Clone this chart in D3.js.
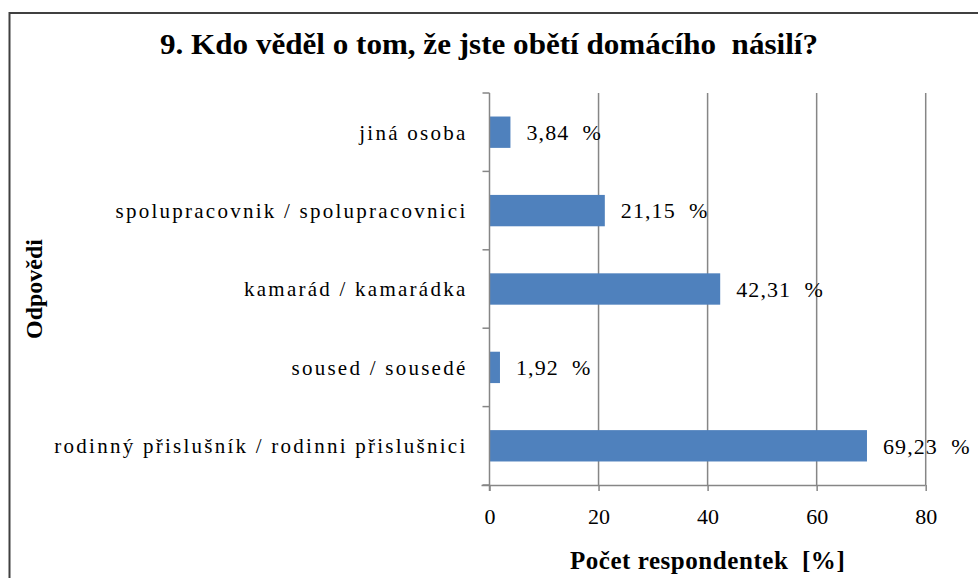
<!DOCTYPE html>
<html><head><meta charset="utf-8">
<script src="https://cdn.jsdelivr.net/npm/d3@7"></script>
<style>body{margin:0;background:#fff}svg{display:block}text{font-family:"Liberation Serif","Times New Roman","DejaVu Serif",serif}</style>
</head><body><svg id="c" width="978" height="578"></svg>
<script>
const categories = ["jiná osoba","spolupracovník / spolupracovníci","kamarád / kamarádka","soused / sousedé","rodinný příslušník / rodinní příslušníci"];
const labelsShown = ["jiná osoba","spolupracovnik / spolupracovnici","kamarád / kamarádka","soused / sousedé","rodinný přislušník / rodinni přislušnici"];
const values = [3.84, 21.15, 42.31, 1.92, 69.23];
const valueLabels = ["3,84  %","21,15  %","42,31  %","1,92  %","69,23  %"];
const xTicks = [0,20,40,60,80];
const title = "9. Kdo věděl o tom, že jste obětí domácího  násilí?";
const xTitle = "Počet respondentek  [%]";
const yTitle = "Odpovědi";

const svg = d3.select("#c");
svg.append("rect").attr("x",9.5).attr("y",13).attr("width",980).attr("height",600)
  .attr("fill","#fff").attr("stroke","#404040").attr("stroke-width",2);

const L=489.5, R=925.7, T=93, B=485;
const x = d3.scaleLinear().domain([0,80]).range([L,R]);
const y = d3.scaleBand().domain(categories).range([T,B]).padding(0);

const g = svg.append("g");
g.selectAll("line.grid").data(xTicks.slice(1)).join("line")
  .attr("x1",d=>x(d)).attr("x2",d=>x(d)).attr("y1",T).attr("y2",B)
  .attr("stroke","#868686").attr("stroke-width",1.5);

const bh = y.bandwidth()*0.4;
g.selectAll("rect.bar").data(values).join("rect")
  .attr("x",x(0)).attr("y",(d,i)=>y(categories[i])+y.bandwidth()/2-bh/2)
  .attr("width",d=>x(d)-x(0)).attr("height",bh).attr("fill","#4f81bd");

g.selectAll("text.val").data(values).join("text")
  .attr("x",d=>x(d)+16).attr("y",(d,i)=>y(categories[i])+y.bandwidth()/2)
  .attr("dy","0.35em").attr("font-size",22).attr("letter-spacing",1.1).attr("fill","#000")
  .style("white-space","pre").attr("xml:space","preserve")
  .text((d,i)=>valueLabels[i]);

const xa = g.append("g").attr("transform",`translate(0,${B})`)
  .call(d3.axisBottom(x).tickValues(xTicks).tickSize(6).tickPadding(17).tickFormat(d=>d));
xa.select(".domain").attr("stroke","#868686").attr("stroke-width",1.5).attr("d",`M${L-8},0.5H${R}`);
xa.selectAll(".tick line").attr("stroke","#868686").attr("stroke-width",1.5);
xa.selectAll(".tick text").attr("font-size",22).attr("fill","#000");

const ya = g.append("g").attr("transform",`translate(${L},0)`);
ya.append("line").attr("x1",0).attr("x2",0).attr("y1",T).attr("y2",B+6).attr("stroke","#868686").attr("stroke-width",1.5);
const bounds = categories.map(c=>y(c)).concat([B]);
ya.selectAll("line.t").data(bounds).join("line").attr("class","t")
  .attr("x1",-7).attr("x2",0).attr("y1",d=>d).attr("y2",d=>d).attr("stroke","#868686").attr("stroke-width",1.5);
ya.selectAll("text").data(labelsShown).join("text")
  .attr("x",-22).attr("y",(d,i)=>y(categories[i])+y.bandwidth()/2).attr("dy","0.35em")
  .attr("text-anchor","end").attr("font-size",21).attr("letter-spacing",2.25).attr("fill","#000").text(d=>d);

svg.append("text").attr("x",489).attr("y",44).attr("dy","0.35em").attr("text-anchor","middle")
  .attr("font-size",29).attr("font-weight","bold").attr("textLength",658).attr("lengthAdjust","spacingAndGlyphs")
  .style("white-space","pre").attr("xml:space","preserve").text(title);
svg.append("text").attr("x",(L+R)/2).attr("y",560).attr("dy","0.35em").attr("text-anchor","middle")
  .attr("font-size",25).attr("font-weight","bold").attr("letter-spacing",0.55).style("white-space","pre").attr("xml:space","preserve").text(xTitle);
svg.append("text").attr("transform",`translate(34,${(T+B)/2}) rotate(-90)`).attr("dy","0.35em").attr("text-anchor","middle")
  .attr("font-size",24).attr("font-weight","bold").text(yTitle);
</script></body></html>
